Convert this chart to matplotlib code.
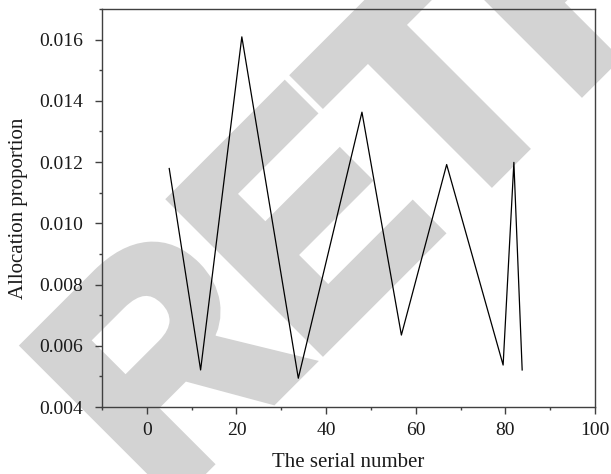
import matplotlib
matplotlib.use("Agg")
import matplotlib.pyplot as plt
import matplotlib.transforms as mtransforms
from matplotlib.textpath import TextPath
from matplotlib.font_manager import FontProperties
from matplotlib.patches import PathPatch
from matplotlib.ticker import MultipleLocator

# ---- data ----
serial = [5, 12, 21.2, 33.8, 48, 56.8, 66.9, 79.5, 81.9, 83.75]
proportion = [0.01179, 0.00521, 0.01609, 0.00494, 0.01363,
              0.00635, 0.01192, 0.00537, 0.01199, 0.00521]
x_ticks = [0, 20, 40, 60, 80, 100]
y_ticks = [0.004, 0.006, 0.008, 0.010, 0.012, 0.014, 0.016]
x_label = "The serial number"
y_label = "Allocation proportion"
watermark = "RETRACTED"

plt.rcParams['font.family'] = ['Liberation Serif', 'DejaVu Serif']

DPI = 100
fig = plt.figure(figsize=(6.11, 4.74), dpi=DPI)
fig.patch.set_facecolor('white')

# ---- watermark (behind everything) ----
wm_color = '#d3d3d3'
fp = FontProperties(family='Liberation Sans', weight='bold')
tp = TextPath((0, 0), watermark, size=304, prop=fp)
tr = (mtransforms.Affine2D().scale(0.943, 1.0).rotate_deg(45)
      .translate(163.0, -33.0).scale(1.0 / DPI) + fig.dpi_scale_trans)
patch = PathPatch(tp, transform=tr, facecolor=wm_color, edgecolor=wm_color,
                  lw=10.0, joinstyle='miter', zorder=-1)
fig.add_artist(patch)

# ---- axes ----
ax = fig.add_axes([102 / 611, 67 / 474, 493 / 611, 398 / 474])
ax.set_facecolor('none')
ax.plot(serial, proportion, color='black', lw=0.9)

ax.set_xlim(-10, 100)
ax.set_ylim(0.004, 0.017)
ax.set_xticks(x_ticks)
ax.set_yticks(y_ticks)
ax.set_xticklabels([str(v) for v in x_ticks])
ax.set_yticklabels([f"{v:.3f}" for v in y_ticks])
ax.xaxis.set_minor_locator(MultipleLocator(10))
ax.yaxis.set_minor_locator(MultipleLocator(0.001))

spine_color = '#404040'
for s in ax.spines.values():
    s.set_color(spine_color)
    s.set_linewidth(1.0)

ax.tick_params(which='both', direction='out', color=spine_color,
               top=False, right=False, labelsize=14, labelcolor='#1a1a1a')
ax.tick_params(which='major', length=5, width=1.0)
ax.tick_params(which='minor', length=2.5, width=1.0)
ax.tick_params(axis='x', which='major', pad=6)
ax.tick_params(axis='y', which='major', pad=8.5)

ax.set_xlabel(x_label, fontsize=15, color='#1a1a1a')
ax.set_ylabel(y_label, fontsize=15, color='#1a1a1a')
ax.xaxis.set_label_coords(0.5, -0.1505)
ax.xaxis.label.set_va('baseline')
ax.yaxis.set_label_coords(-0.151, 0.5)

fig.savefig("out.png", dpi=DPI, facecolor='white')
